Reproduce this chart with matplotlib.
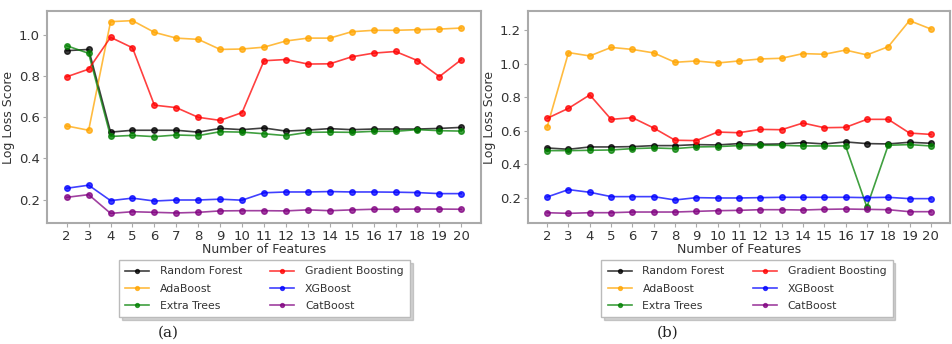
import matplotlib
matplotlib.use("Agg")
import matplotlib.pyplot as plt

features = list(range(2, 21))
labels = ["Random Forest", "AdaBoost", "Extra Trees", "Gradient Boosting", "XGBoost", "CatBoost"]
colors = ["black", "orange", "green", "red", "blue", "purple"]

# Panel (a)
a_rf = [0.924, 0.930, 0.528, 0.537, 0.537, 0.537, 0.528, 0.546, 0.540, 0.548, 0.533, 0.538, 0.545, 0.540, 0.543, 0.543, 0.543, 0.546, 0.551]
a_ada = [0.558, 0.537, 1.065, 1.070, 1.013, 0.985, 0.979, 0.930, 0.932, 0.941, 0.971, 0.985, 0.985, 1.016, 1.023, 1.023, 1.026, 1.029, 1.034]
a_et = [0.948, 0.911, 0.507, 0.512, 0.506, 0.514, 0.511, 0.530, 0.528, 0.520, 0.511, 0.527, 0.528, 0.527, 0.532, 0.532, 0.540, 0.535, 0.533]
a_gb = [0.797, 0.834, 0.989, 0.938, 0.659, 0.647, 0.600, 0.585, 0.623, 0.875, 0.881, 0.859, 0.860, 0.894, 0.912, 0.920, 0.876, 0.798, 0.880]
a_xgb = [0.255, 0.270, 0.195, 0.207, 0.193, 0.198, 0.198, 0.202, 0.197, 0.233, 0.237, 0.237, 0.239, 0.237, 0.237, 0.236, 0.234, 0.229, 0.229]
a_cat = [0.211, 0.224, 0.133, 0.141, 0.138, 0.135, 0.138, 0.145, 0.146, 0.146, 0.145, 0.150, 0.146, 0.150, 0.153, 0.153, 0.154, 0.154, 0.153]

# Panel (b)
b_rf = [0.497, 0.489, 0.503, 0.503, 0.505, 0.511, 0.511, 0.517, 0.515, 0.523, 0.519, 0.521, 0.529, 0.521, 0.533, 0.523, 0.521, 0.531, 0.525]
b_ada = [0.624, 1.067, 1.047, 1.098, 1.086, 1.065, 1.009, 1.017, 1.005, 1.017, 1.029, 1.033, 1.061, 1.057, 1.082, 1.053, 1.102, 1.258, 1.208]
b_et = [0.481, 0.481, 0.483, 0.485, 0.493, 0.497, 0.493, 0.503, 0.505, 0.511, 0.513, 0.513, 0.509, 0.509, 0.509, 0.144, 0.513, 0.517, 0.509]
b_gb = [0.674, 0.734, 0.814, 0.668, 0.678, 0.616, 0.543, 0.541, 0.592, 0.588, 0.608, 0.606, 0.646, 0.618, 0.620, 0.668, 0.668, 0.586, 0.578]
b_xgb = [0.204, 0.248, 0.232, 0.206, 0.206, 0.206, 0.186, 0.200, 0.198, 0.198, 0.200, 0.202, 0.202, 0.202, 0.202, 0.200, 0.202, 0.194, 0.194]
b_cat = [0.110, 0.106, 0.110, 0.110, 0.114, 0.114, 0.114, 0.118, 0.122, 0.124, 0.128, 0.128, 0.126, 0.130, 0.132, 0.130, 0.128, 0.116, 0.116]

panels = [
    ([a_rf, a_ada, a_et, a_gb, a_xgb, a_cat], "(a)"),
    ([b_rf, b_ada, b_et, b_gb, b_xgb, b_cat], "(b)"),
]

W, H = 952, 344
fig = plt.figure(figsize=(W / 100, H / 100), dpi=100)
text_col = "#333333"
spine_col = "#aaaaaa"

axes_px = [(47, 11, 481, 223), (528, 11, 950, 223)]
legend_px = [(117, 260, 412), (601, 260, 893)]
caption_px = [(168, 333), (668, 333)]

for (series, cap), (x0, y0, x1, y1), (lx0, ly0, lx1), (cx, cy) in zip(panels, axes_px, legend_px, caption_px):
    ax = fig.add_axes([x0 / W, 1 - y1 / H, (x1 - x0) / W, (y1 - y0) / H])
    for vals, lab, col in zip(series, labels, colors):
        ax.plot(features, vals, color=col, marker="o", markersize=4, linewidth=1.2,
                alpha=0.75, label=lab)
    ax.set_xticks(features)
    ax.set_xlabel("Number of Features", fontsize=9, color=text_col, labelpad=0)
    ax.set_ylabel("Log Loss Score", fontsize=9, color=text_col, labelpad=3)
    ax.tick_params(axis="both", labelsize=9.5, colors=text_col, length=3, color=spine_col, pad=2)
    for sp in ax.spines.values():
        sp.set_color(spine_col)
        sp.set_linewidth(1.5)
    leg = fig.legend(*ax.get_legend_handles_labels(), ncol=2, loc="upper center",
                     bbox_to_anchor=((lx0 + lx1) / 2 / W, 1 - ly0 / H),
                     borderaxespad=0.0,
                     fontsize=7.8, frameon=True,
                     shadow={"color": "0.5", "alpha": 0.35}, fancybox=False,
                     handlelength=2.2, handletextpad=1.0, markerscale=0.7,
                     labelspacing=0.65, columnspacing=2.6, borderpad=0.6)
    leg.get_frame().set_edgecolor("#bbbbbb")
    for t in leg.get_texts():
        t.set_color(text_col)
    fig.text(cx / W, 1 - cy / H, cap, fontsize=11, family="DejaVu Serif",
             ha="center", va="center", color="#222222")

fig.savefig("out.png", dpi=100)
